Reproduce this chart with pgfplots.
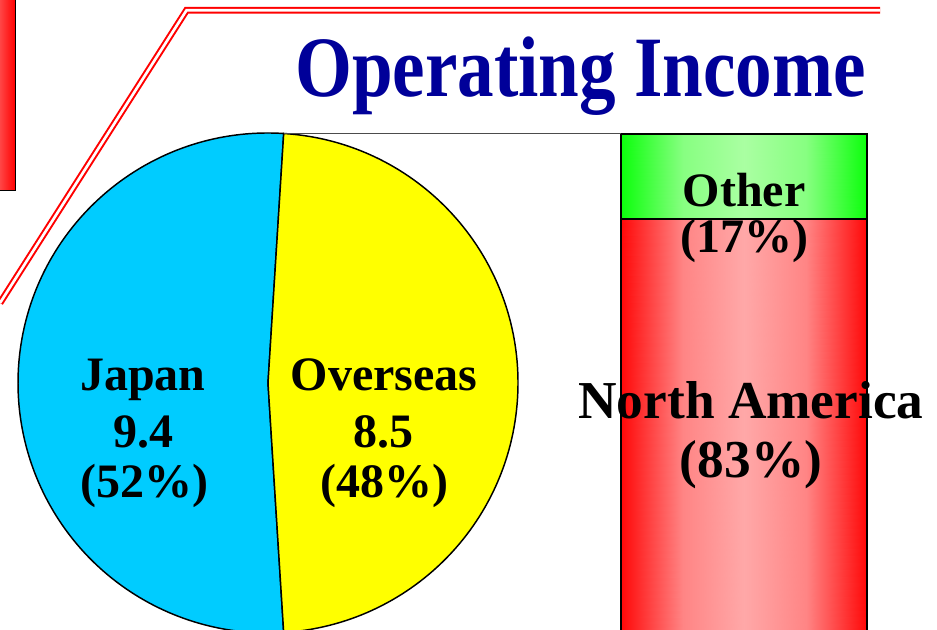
\documentclass[border=0pt]{standalone}
\usepackage{fontspec}
\setmainfont{Liberation Serif}
\usepackage{graphicx}
\usepackage{pgfplots}
\pgfplotsset{compat=1.18}
\definecolor{japan}{HTML}{00CCFF}
\definecolor{overseas}{HTML}{FFFF00}
\definecolor{titleblue}{HTML}{000099}
\definecolor{boxlight}{HTML}{FF4545}
\pgfplotsset{
  colormap={redgrad}{rgb255=(255,8,8) rgb255=(255,168,168)},
  colormap={greengrad}{rgb255=(12,255,12) rgb255=(170,255,162)},
}
% pie data (share of operating income, %)
\def\vJapan{52}
\def\vOverseas{48}
\pgfmathsetmacro\spanO{360*(\vOverseas/(\vJapan+\vOverseas))}
\pgfmathsetmacro\spanJ{360*(\vJapan/(\vJapan+\vOverseas))}
\pgfmathsetmacro\aStart{90-(180-\spanO)/2}
\pgfmathsetmacro\aEnd{\aStart+\spanJ}
\pgfmathsetmacro\aOEnd{\aStart-\spanO}
\begin{document}
\begin{tikzpicture}
% ---- stacked bar (overseas breakdown: North America 83 %, Other 17 %) ----
\begin{axis}[name=bar, at={(465.75pt,-3pt)}, anchor=south west,
  scale only axis, width=184.5pt, height=375pt,
  xmin=-0.5, xmax=0.5, ymin=0, ymax=100,
  axis lines=none, clip=false, point meta min=0, point meta max=1]
\addplot[surf, shader=interp, colormap name=redgrad, mesh/cols=5, point meta=explicit] coordinates {
(-0.5,0) [0] (-0.25,0) [0.78] (0,0) [1] (0.25,0) [0.78] (0.5,0) [0]
(-0.5,83) [0] (-0.25,83) [0.78] (0,83) [1] (0.25,83) [0.78] (0.5,83) [0]
};
\addplot[surf, shader=interp, colormap name=greengrad, mesh/cols=5, point meta=explicit] coordinates {
(-0.5,83) [0] (-0.25,83) [0.78] (0,83) [1] (0.25,83) [0.78] (0.5,83) [0]
(-0.5,100) [0] (-0.25,100) [0.78] (0,100) [1] (0.25,100) [0.78] (0.5,100) [0]
};
\addplot[black, line width=1.1pt, mark=none] coordinates {(-0.5,-1) (-0.5,100) (0.5,100) (0.5,-1)};
\addplot[black, line width=1.1pt, mark=none] coordinates {(-0.5,83) (0.5,83)};
\end{axis}
% ---- main frame with pie ----
\begin{axis}[name=main, at={(0pt,0pt)}, anchor=south west,
  scale only axis, width=702.75pt, height=472.5pt,
  xmin=0, xmax=937, ymin=0, ymax=630, axis lines=none, clip=false]
% decoration
\shade[left color=boxlight, right color=red] (axis cs:0,439.5) rectangle (axis cs:15.5,630);
\draw[black, line width=0.8pt] (axis cs:0,439.5) -- (axis cs:15.5,439.5) -- (axis cs:15.5,630);
\draw[red, line width=1.5pt, double=white, double distance=2pt] (axis cs:880,619.7) -- (axis cs:186.5,619.7) -- (axis cs:0,327);
% pie slices
\filldraw[fill=japan, draw=black, line width=1.1pt] (axis cs:268,247) -- ++(\aStart:187.5pt) arc[start angle=\aStart, end angle=\aEnd, radius=187.5pt] -- cycle;
\filldraw[fill=overseas, draw=black, line width=1.1pt] (axis cs:268,247) -- ++(\aStart:187.5pt) arc[start angle=\aStart, end angle=\aOEnd, radius=187.5pt] -- cycle;
% connector
\draw[black!70, line width=0.8pt] (axis cs:284,496.5) -- (axis cs:621,496.5);
% title
\node[anchor=base east, inner sep=0, text=titleblue, font=\fontsize{64.5pt}{70pt}\selectfont\bfseries] at (axis cs:866,533) {\scalebox{0.85}[1]{Operating Income}};
% pie labels
\begin{scope}[every node/.style={anchor=base, inner sep=0, font=\fontsize{36pt}{40pt}\selectfont\bfseries}]
\node at (axis cs:143,239) {Japan};
\node at (axis cs:143,182) {9.4};
\node at (axis cs:144,132) {(52\%)};
\node at (axis cs:384,239) {Overseas};
\node at (axis cs:383,182) {8.5};
\node at (axis cs:384,132) {(48\%)};
\node at (axis cs:744,423) {Other};
\node at (axis cs:744,377) {(17\%)};
\end{scope}
\begin{scope}[every node/.style={anchor=base, inner sep=0, font=\fontsize{40pt}{44pt}\selectfont\bfseries}]
\node at (axis cs:751,211) {North America};
\node at (axis cs:751,152) {(83\%)};
\end{scope}
\end{axis}
\pgfresetboundingbox
\path (0pt,0pt) rectangle (702.75pt,472.5pt);
\end{tikzpicture}
\end{document}
